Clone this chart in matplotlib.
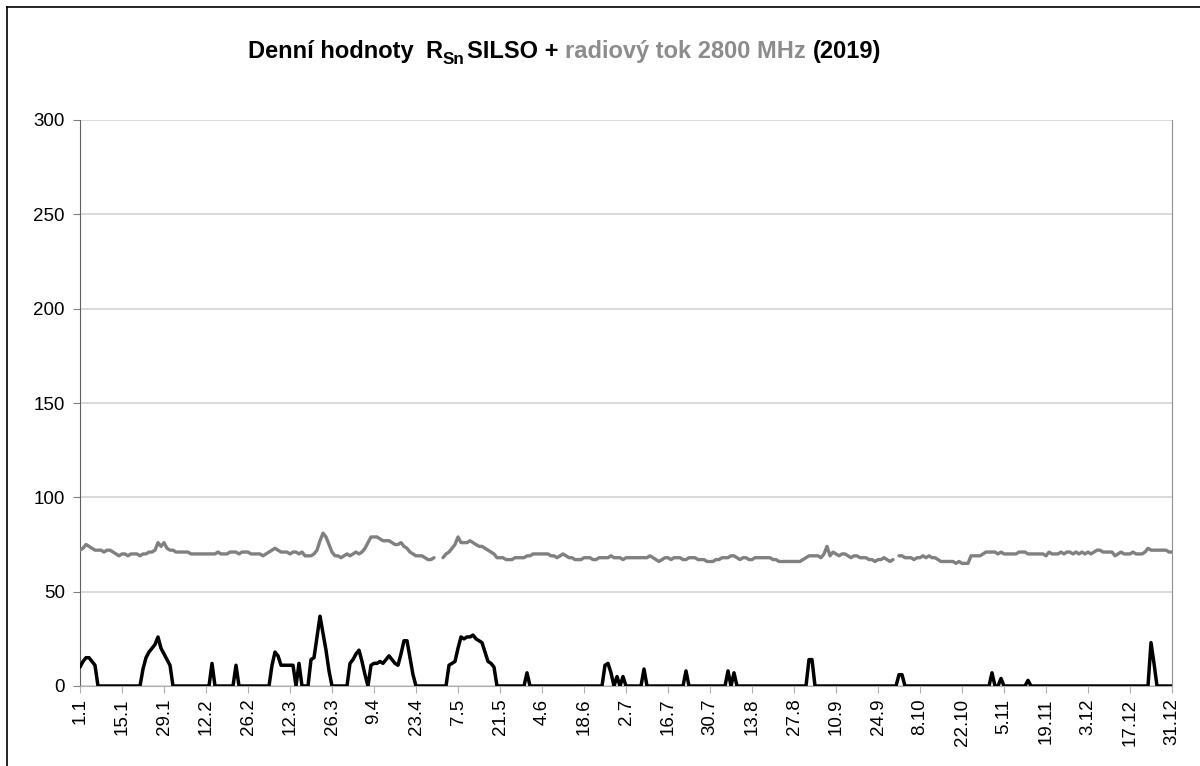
import numpy as np
import matplotlib.pyplot as plt
from matplotlib.lines import Line2D

plt.rcParams['font.family'] = ['Liberation Sans', 'DejaVu Sans']

# tick labels every 14 days (2019)
tick_days = list(range(0, 365, 14))
tick_labels = ["1.1", "15.1", "29.1", "12.2", "26.2", "12.3", "26.3", "9.4", "23.4",
               "7.5", "21.5", "4.6", "18.6", "2.7", "16.7", "30.7", "13.8", "27.8",
               "10.9", "24.9", "8.10", "22.10", "5.11", "19.11", "3.12", "17.12", "31.12"]

# daily sunspot number R_Sn (SILSO), 1.1. - 31.12.2019
sunspots = [
    10, 13, 15, 15, 13, 11, 0, 0, 0, 0, 0, 0, 0, 0,
    0, 0, 0, 0, 0, 0, 0, 9, 15, 18, 20, 22, 26, 20,
    17, 14, 11, 0, 0, 0, 0, 0, 0, 0, 0, 0, 0, 0,
    0, 0, 12, 0, 0, 0, 0, 0, 0, 0, 11, 0, 0, 0,
    0, 0, 0, 0, 0, 0, 0, 0, 11, 18, 16, 11, 11, 11,
    11, 11, 0, 12, 0, 0, 0, 14, 15, 26, 37, 28, 19, 8,
    0, 0, 0, 0, 0, 0, 12, 14, 17, 19, 13, 6, 0, 11,
    12, 12, 13, 12, 14, 16, 14, 12, 11, 17, 24, 24, 15, 6,
    0, 0, 0, 0, 0, 0, 0, 0, 0, 0, 0, 11, 12, 13,
    20, 26, 25, 26, 26, 27, 25, 24, 23, 18, 13, 12, 10, 0,
    0, 0, 0, 0, 0, 0, 0, 0, 0, 7, 0, 0, 0, 0,
    0, 0, 0, 0, 0, 0, 0, 0, 0, 0, 0, 0, 0, 0,
    0, 0, 0, 0, 0, 0, 0, 11, 12, 7, 0, 5, 0, 5,
    0, 0, 0, 0, 0, 0, 9, 0, 0, 0, 0, 0, 0, 0,
    0, 0, 0, 0, 0, 0, 8, 0, 0, 0, 0, 0, 0, 0,
    0, 0, 0, 0, 0, 0, 8, 0, 7, 0, 0, 0, 0, 0,
    0, 0, 0, 0, 0, 0, 0, 0, 0, 0, 0, 0, 0, 0,
    0, 0, 0, 0, 0, 14, 14, 0, 0, 0, 0, 0, 0, 0,
    0, 0, 0, 0, 0, 0, 0, 0, 0, 0, 0, 0, 0, 0,
    0, 0, 0, 0, 0, 0, 0, 6, 6, 0, 0, 0, 0, 0,
    0, 0, 0, 0, 0, 0, 0, 0, 0, 0, 0, 0, 0, 0,
    0, 0, 0, 0, 0, 0, 0, 0, 0, 0, 7, 0, 0, 4,
    0, 0, 0, 0, 0, 0, 0, 0, 3, 0, 0, 0, 0, 0,
    0, 0, 0, 0, 0, 0, 0, 0, 0, 0, 0, 0, 0, 0,
    0, 0, 0, 0, 0, 0, 0, 0, 0, 0, 0, 0, 0, 0,
    0, 0, 0, 0, 0, 0, 0, 23, 12, 0, 0, 0, 0, 0,
    0,
]

nan = np.nan
# daily radio flux 2800 MHz (F10.7), missing days as nan
flux = [
    72, 73, 75, 74, 73, 72, 72, 72, 71, 72, 72, 71, 70, 69,
    70, 70, 69, 70, 70, 70, 69, 70, 70, 71, 71, 72, 76, 74,
    76, 73, 72, 72, 71, 71, 71, 71, 71, 70, 70, 70, 70, 70,
    70, 70, 70, 70, 71, 70, 70, 70, 71, 71, 71, 70, 71, 71,
    71, 70, 70, 70, 70, 69, 70, 71, 72, 73, 72, 71, 71, 71,
    70, 71, 71, 70, 71, 69, 69, 69, 70, 72, 77, 81, 79, 75,
    71, 69, 69, 68, 69, 70, 69, 70, 71, 70, 71, 73, 76, 79,
    79, 79, 78, 77, 77, 77, 76, 75, 75, 76, 74, 73, 71, 70,
    69, 69, 69, 68, 67, 67, 68, nan, nan, 68, 70, 71, 73, 75,
    79, 76, 76, 76, 77, 76, 75, 74, 74, 73, 72, 71, 70, 68,
    68, 68, 67, 67, 67, 68, 68, 68, 68, 69, 69, 70, 70, 70,
    70, 70, 70, 69, 69, 68, 69, 70, 69, 68, 68, 67, 67, 67,
    68, 68, 68, 67, 67, 68, 68, 68, 68, 69, 68, 68, 68, 67,
    68, 68, 68, 68, 68, 68, 68, 68, 69, 68, 67, 66, 67, 68,
    68, 67, 68, 68, 68, 67, 67, 68, 68, 68, 67, 67, 67, 66,
    66, 66, 67, 67, 68, 68, 68, 69, 69, 68, 67, 68, 68, 67,
    67, 68, 68, 68, 68, 68, 68, 67, 67, 66, 66, 66, 66, 66,
    66, 66, 66, 67, 68, 69, 69, 69, 69, 68, 70, 74, 69, 71,
    70, 69, 70, 70, 69, 68, 69, 69, 68, 68, 68, 67, 67, 66,
    67, 67, 68, 67, 66, 67, nan, 69, 69, 68, 68, 68, 67, 68,
    68, 69, 68, 69, 68, 68, 67, 66, 66, 66, 66, 66, 65, 66,
    65, 65, 65, 69, 69, 69, 69, 70, 71, 71, 71, 71, 70, 71,
    70, 70, 70, 70, 70, 71, 71, 71, 70, 70, 70, 70, 70, 70,
    69, 71, 70, 70, 70, 71, 70, 71, 71, 70, 71, 70, 71, 70,
    71, 70, 71, 72, 72, 71, 71, 71, 71, 69, 70, 71, 70, 70,
    70, 71, 70, 70, 70, 71, 73, 72, 72, 72, 72, 72, 72, 71,
    71,
]

days = np.arange(len(sunspots))

W, H = 1200, 766
fig = plt.figure(figsize=(W / 100, H / 100), dpi=100)
ax = fig.add_axes([80 / W, 1 - 686 / H, (1172 - 80) / W, (686 - 120) / H])

ax.plot(days, np.array(flux, dtype=float), color='#808080', lw=2.4,
        solid_joinstyle='round', solid_capstyle='round', zorder=3)
ax.plot(days, sunspots, color='black', lw=2.5,
        solid_joinstyle='round', solid_capstyle='round', zorder=4)

ax.set_xlim(0, 364)
ax.set_ylim(0, 300)
ax.set_yticks(range(0, 301, 50))
ax.yaxis.grid(True, color='#d4d4d4', lw=1.2)
ax.set_axisbelow(True)
ax.set_xticks(tick_days)
ax.set_xticklabels(tick_labels, rotation=90)
ax.tick_params(axis='x', labelsize=13.5, length=5, color='#b0b0b0', pad=4)
ax.tick_params(axis='y', labelsize=13.5, length=5, color='#808080', pad=6)

ax.spines['left'].set_color('#606060')
ax.spines['bottom'].set_color('#b0b0b0')
ax.spines['right'].set_color('#909090')
ax.spines['top'].set_visible(False)

# title in pieces (mixed colour + subscript)
renderer = fig.canvas.get_renderer()
tsize = 17


def twidth(s, size):
    t = fig.text(0, 0, s, fontsize=size, fontweight='bold')
    w = t.get_window_extent(renderer).width
    t.remove()
    return w


space = twidth("n n", tsize) - twidth("nn", tsize)
pieces = [
    ("Denní hodnoty", 'black', tsize, 0, space * 1.8),
    ("R", 'black', tsize, 0, 0),
    ("Sn", 'black', tsize * 0.72, -6, space * 0.4),
    ("SILSO +", 'black', tsize, 0, space),
    ("radiový tok 2800 MHz", '#8c8c8c', tsize, 0, space),
    ("(2019)", 'black', tsize, 0, 0),
]
x = 248
base = H - 58
for s, c, sz, dy, gap in pieces:
    t = fig.text(x / W, (base + dy) / H, s, color=c, fontsize=sz,
                 fontweight='bold', va='baseline', ha='left')
    x = t.get_window_extent(renderer).x1 + gap

# outer chart frame
fig.add_artist(Line2D([7 / W, 7 / W], [0, 1 - 7 / H], color='black', lw=1.2))
fig.add_artist(Line2D([7 / W, 1], [1 - 7 / H, 1 - 7 / H], color='black', lw=1.2))

fig.savefig('out.png', dpi=100)
